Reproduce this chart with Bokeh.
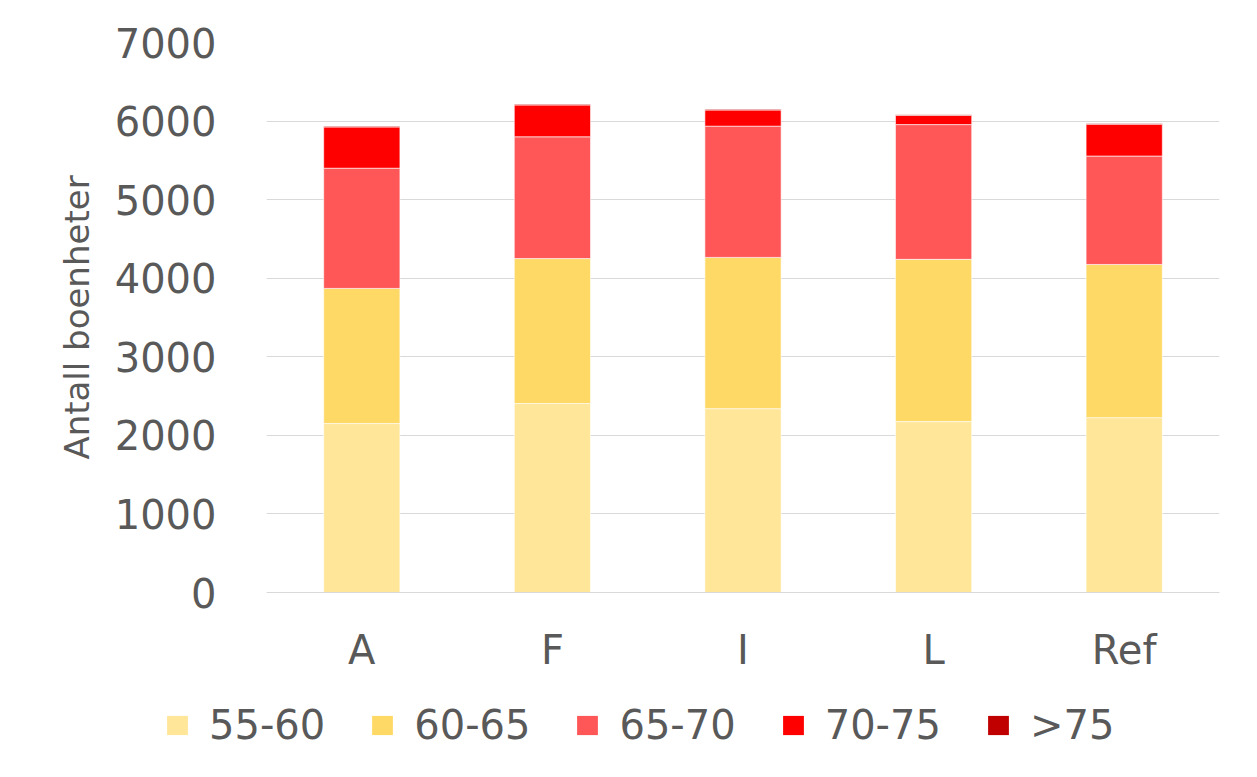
from bokeh.plotting import figure
from bokeh.models import (FactorRange, Range1d, Legend, LegendItem, ColumnDataSource,
                          SingleIntervalTicker)
from bokeh.embed import file_html
from bokeh.resources import INLINE

categories = ["A", "F", "I", "L", "Ref"]
series_names = ["55-60", "60-65", "65-70", "70-75", ">75"]
v_55_60 = [2150, 2405, 2340, 2175, 2225]
v_60_65 = [1720, 1845, 1925, 2065, 1950]
v_65_70 = [1530, 1550, 1670, 1715, 1380]
v_70_75 = [525, 405, 206, 117, 405]
v_gt75 = [10, 10, 10, 10, 10]
colors = ["#FFE699", "#FFD966", "#FF5757", "#FF0000", "#C00000"]

data = {"cat": categories, "55-60": v_55_60, "60-65": v_60_65, "65-70": v_65_70,
        "70-75": v_70_75, ">75": v_gt75}
src = ColumnDataSource(data)

FONT = "DejaVu Sans"
GREY = "#595959"
W = 1250

p = figure(x_range=FactorRange(*categories, range_padding=0), y_range=Range1d(0, 7000),
           width=W, height=690, output_backend="svg", toolbar_location=None,
           min_border_left=266, min_border_right=31, min_border_top=42, min_border_bottom=98)
p.outline_line_color = None

renderers = p.vbar_stack(series_names, x="cat", width=0.4, source=src, color=colors,
                         line_color="white", line_width=1, line_alpha=0.6)

p.yaxis.ticker = SingleIntervalTicker(interval=1000)
p.yaxis.axis_line_color = None
p.yaxis.major_tick_line_color = None
p.yaxis.minor_tick_line_color = None
p.yaxis.major_label_text_font = FONT
p.yaxis.major_label_text_font_size = "40px"
p.yaxis.major_label_text_color = GREY
p.yaxis.major_label_standoff = 44
p.yaxis.axis_label = "Antall boenheter"
p.yaxis.axis_label_text_font = FONT
p.yaxis.axis_label_text_font_size = "34px"
p.yaxis.axis_label_text_font_style = "normal"
p.yaxis.axis_label_text_color = GREY
p.yaxis.axis_label_standoff = 15

p.xaxis.axis_line_color = "#D9D9D9"
p.xaxis.major_tick_line_color = None
p.xaxis.minor_tick_line_color = None
p.xaxis.major_label_text_font = FONT
p.xaxis.major_label_text_font_size = "40px"
p.xaxis.major_label_text_color = GREY
p.xaxis.major_label_standoff = 28

p.xgrid.grid_line_color = None
p.ygrid.grid_line_color = "#D9D9D9"
p.ygrid.grid_line_width = 1

# legend strip: a separate root figure (not frame-aligned with the chart);
# its zero-width bars lie outside its visible y range, so only the legend shows
lf = figure(x_range=FactorRange(*categories), y_range=Range1d(-2, -1),
            width=W, height=80, output_backend="svg", toolbar_location=None,
            x_axis_location=None, y_axis_location=None,
            min_border_left=0, min_border_right=0, min_border_top=0, min_border_bottom=0)
lf.outline_line_color = None
lf.xgrid.grid_line_color = None
lf.ygrid.grid_line_color = None
lrs = lf.vbar_stack(series_names, x="cat", width=0, source=src, color=colors, line_alpha=0)

items = [LegendItem(label=n, renderers=[r]) for n, r in zip(series_names, lrs)]
legend = Legend(items=items, orientation="horizontal", location=(164, 22),
                label_text_font=FONT, label_text_font_size="40px", label_text_color=GREY,
                glyph_width=26, glyph_height=24, spacing=44, label_standoff=19,
                border_line_color=None, background_fill_alpha=0, margin=0, padding=0)
lf.add_layout(legend, "center")

open("out.html", "w").write(file_html([p, lf], INLINE))
